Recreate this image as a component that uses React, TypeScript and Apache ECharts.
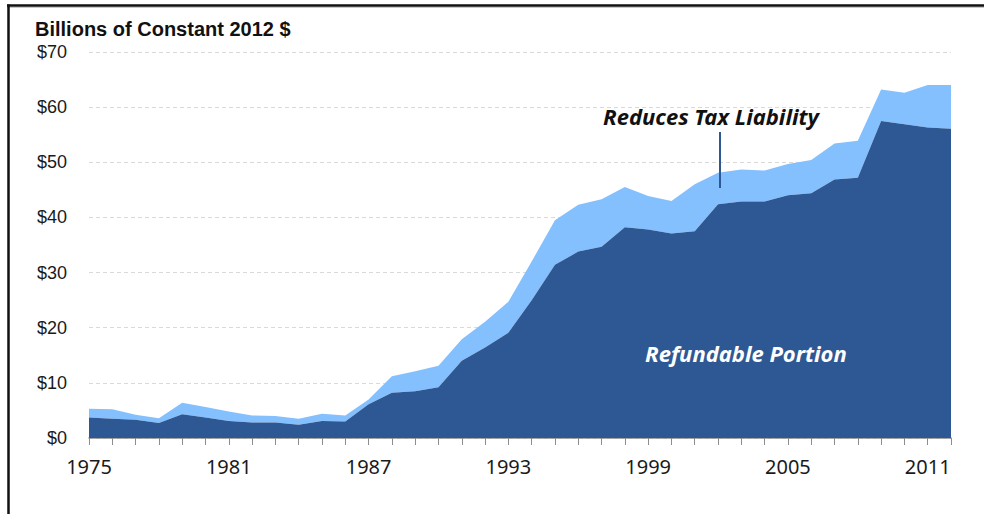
import React, { useEffect, useRef } from "react";
import * as echarts from "echarts";

const years: string[] = [
  "1975","1976","1977","1978","1979","1980","1981","1982","1983","1984",
  "1985","1986","1987","1988","1989","1990","1991","1992","1993","1994",
  "1995","1996","1997","1998","1999","2000","2001","2002","2003","2004",
  "2005","2006","2007","2008","2009","2010","2011","2012",
];

// Refundable portion (billions of constant 2012 $)
const refundable: number[] = [
  3.7, 3.5, 3.3, 2.7, 4.3, 3.7, 3.1, 2.8, 2.8, 2.4,
  3.1, 3.0, 6.1, 8.2, 8.5, 9.2, 14.0, 16.4, 19.1, 25.0,
  31.4, 33.8, 34.7, 38.2, 37.8, 37.1, 37.5, 42.4, 42.9, 42.9,
  44.0, 44.4, 46.9, 47.2, 57.5, 56.9, 56.3, 56.1,
];

// Portion that reduces tax liability (stacked on top)
const reducesTax: number[] = [
  1.6, 1.7, 0.9, 0.9, 2.1, 1.9, 1.7, 1.3, 1.2, 1.1,
  1.3, 1.1, 0.9, 3.0, 3.6, 3.9, 3.9, 4.7, 5.6, 7.0,
  8.1, 8.5, 8.6, 7.3, 6.1, 5.9, 8.5, 5.7, 5.8, 5.6,
  5.7, 6.0, 6.5, 6.7, 5.7, 5.7, 7.7, 7.9,
];

const yTicks: number[] = [0, 10, 20, 30, 40, 50, 60, 70];

const DARK = "#2E5894";
const LIGHT = "#84C0FE";
const FONT = "'Noto Sans', 'Open Sans', sans-serif";
const FONT2 = "'Liberation Sans', Arial, sans-serif";

export default function App() {
  const ref = useRef<HTMLDivElement>(null);

  useEffect(() => {
    if (!ref.current) return;
    const chart = echarts.init(ref.current, undefined, { renderer: "svg" });
    chart.setOption({
      animation: false,
      backgroundColor: "#ffffff",
      grid: { left: 89, right: 33, top: 52, bottom: 76, containLabel: false },
      xAxis: {
        type: "category",
        data: years,
        boundaryGap: false,
        axisLine: { show: true, lineStyle: { color: "#8c8c8c", width: 1.5 } },
        axisTick: {
          show: true,
          interval: 0,
          length: 7,
          lineStyle: { color: "#8c8c8c", width: 1 },
        },
        axisLabel: {
          interval: 5,
          margin: 18,
          color: "#1a1a1a",
          fontFamily: FONT,
          fontSize: 20,
        },
        splitLine: { show: false },
      },
      yAxis: {
        type: "value",
        min: yTicks[0],
        max: yTicks[yTicks.length - 1],
        interval: 10,
        axisLine: { show: false },
        axisTick: { show: false },
        axisLabel: {
          margin: 22,
          color: "#1a1a1a",
          fontFamily: FONT2,
          fontSize: 18,
          formatter: (v: number) => "$" + v,
        },
        splitLine: {
          show: true,
          lineStyle: { color: "#d9d9d9", type: [4, 3], width: 1 },
        },
      },
      series: [
        {
          name: "Refundable Portion",
          type: "line",
          stack: "total",
          data: refundable,
          symbol: "none",
          lineStyle: { width: 0 },
          areaStyle: { color: DARK, opacity: 1 },
          z: 3,
        },
        {
          name: "Reduces Tax Liability",
          type: "line",
          stack: "total",
          data: reducesTax,
          symbol: "none",
          lineStyle: { width: 0 },
          areaStyle: { color: LIGHT, opacity: 1 },
          z: 2,
        },
      ],
      graphic: [
        {
          type: "line",
          shape: { x1: 7, y1: 5.5, x2: 984, y2: 5.5 },
          style: { stroke: "#111", lineWidth: 2.5 },
        },
        {
          type: "line",
          shape: { x1: 7, y1: 7.5, x2: 984, y2: 7.5 },
          style: { stroke: "#c8c8c8", lineWidth: 1 },
        },
        {
          type: "line",
          shape: { x1: 8.5, y1: 4.5, x2: 8.5, y2: 514 },
          style: { stroke: "#111", lineWidth: 2.5 },
        },
        {
          type: "text",
          left: 35,
          top: 19,
          style: {
            text: "Billions of Constant 2012 $",
            fill: "#111",
            font: `bold 20px ${FONT2}`,
          },
        },
        {
          type: "text",
          left: 603,
          top: 105,
          style: {
            text: "Reduces Tax Liability",
            fill: "#111",
            font: `italic bold 22px ${FONT}`,
          },
        },
        {
          type: "line",
          shape: { x1: 720, y1: 132, x2: 720, y2: 188 },
          style: { stroke: DARK, lineWidth: 2 },
          z: 10,
        },
        {
          type: "text",
          left: 645,
          top: 342,
          z: 10,
          style: {
            text: "Refundable Portion",
            fill: "#ffffff",
            font: `italic bold 22px ${FONT}`,
          },
        },
      ],
    });
    return () => chart.dispose();
  }, []);

  return (
    <div
      ref={ref}
      style={{ position: "fixed", left: 0, top: 0, width: 984, height: 514 }}
    />
  );
}
